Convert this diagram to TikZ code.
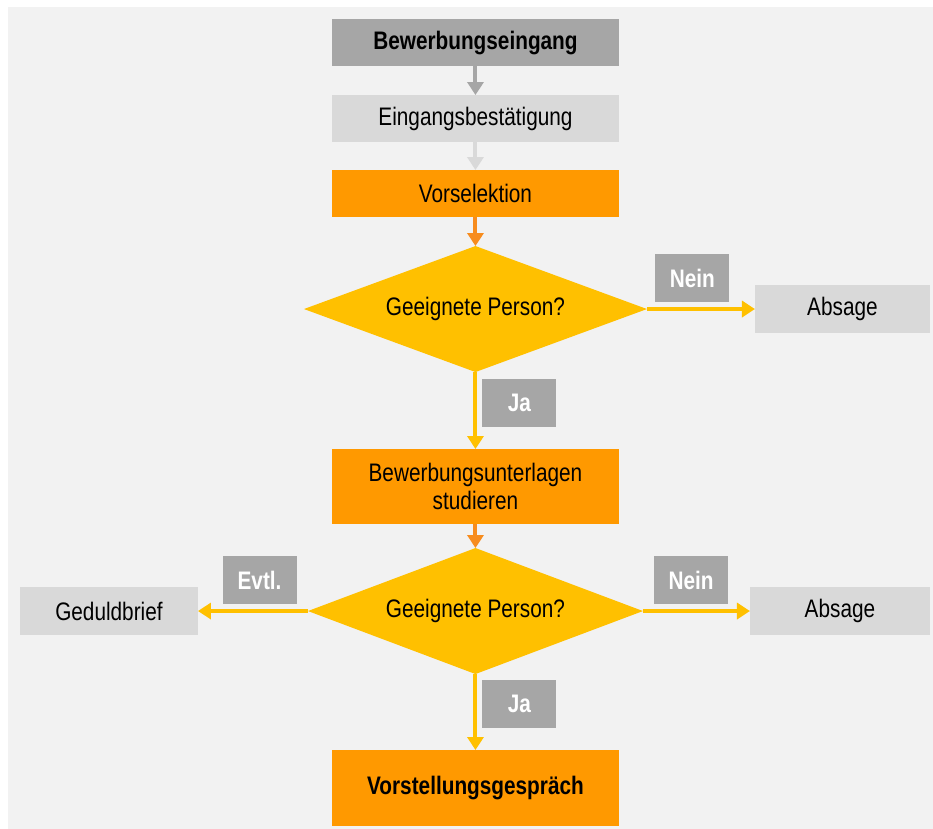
\documentclass[tikz,border=0pt]{standalone}
\usepackage{fontspec}
\setmainfont{Liberation Sans}[FakeStretch=0.82]
\usepackage{xcolor}
\usepackage{tikz}
\usetikzlibrary{positioning,arrows.meta,shapes.geometric}
\definecolor{hgrau}{HTML}{F2F2F2}
\definecolor{mgrau}{HTML}{D9D9D9}
\definecolor{dgrau}{HTML}{A6A6A6}
\definecolor{orange1}{HTML}{FF9900}
\definecolor{orange2}{HTML}{F78C1E}
\definecolor{gelb}{HTML}{FFC000}
\tikzstyle{schritt} = [rectangle, fill=orange1, minimum width=215.25pt, minimum height=35.25pt,
	inner sep=0pt, outer sep=0pt, align=center, font=\fontsize{19}{21}\selectfont]
\tikzstyle{frage} = [diamond, fill=gelb, aspect=2.7, minimum width=257.25pt, minimum height=94.5pt,
	inner sep=0pt, outer sep=0pt, font=\fontsize{19}{21}\selectfont]
\tikzstyle{ende} = [rectangle, fill=mgrau, minimum width=131.25pt, minimum height=36pt,
	inner sep=0pt, outer sep=0pt, font=\fontsize{19}{21}\selectfont]
\tikzstyle{antwort} = [rectangle, fill=dgrau, text=white, minimum width=55.5pt, minimum height=36pt,
	inner sep=0pt, outer sep=0pt, font=\fontsize{19}{21}\selectfont\bfseries]
\tikzstyle{pfeil} = [line width=3pt, -{Triangle[width=12pt,length=9.75pt]}]

\begin{document}
\begin{tikzpicture}
		\useasboundingbox (0,0) rectangle (699.75pt,-621.75pt);
		\fill[hgrau] (6pt,-5.25pt) rectangle (699.75pt,-621.75pt);	% Hintergrund
		
		\node[schritt, fill=dgrau, font=\fontsize{19}{21}\selectfont\bfseries] (eingang) at (356.6pt,-31.9pt) {Bewerbungseingang};
		\node[schritt, fill=mgrau, below=21.75pt of eingang] (bestaetigung) {Eingangsbestätigung};
		\node[schritt, below=21pt of bestaetigung] (vorselektion) {Vorselektion};
		\node[frage, below=21.75pt of vorselektion] (frage1) {Geeignete Person?};		% 1. Entscheidung
		\node[ende, right=81pt of frage1] (absage1) {Absage};
		\node[schritt, minimum height=56.25pt, below=57.75pt of frage1] (unterlagen) {Bewerbungsunterlagen\\studieren};
		\node[frage, minimum width=251.25pt, below=18pt of unterlagen] (frage2) {Geeignete Person?};	% 2. Entscheidung
		\node[ende, minimum width=135pt, right=80.25pt of frage2] (absage2) {Absage};
		\node[ende, minimum width=133.5pt, left=82.5pt of frage2] (geduld) {Geduldbrief};
		\node[schritt, minimum height=57pt, font=\fontsize{19}{21}\selectfont\bfseries, below=57pt of frage2] (gespraech) {Vorstellungsgespräch};
		
		% Pfeile
		\draw[pfeil, dgrau] (eingang) -- (bestaetigung);
		\draw[pfeil, mgrau] (bestaetigung) -- (vorselektion);
		\draw[pfeil, orange2] (vorselektion) -- (frage1);
		\draw[pfeil, gelb] (frage1) -- node[antwort, pos=0.42, above=5.25pt] (nein1) {Nein} (absage1);
		\draw[pfeil, gelb] (frage1) -- node[antwort, pos=0.4, right=5.25pt] (ja1) {Ja} (unterlagen);
		\draw[pfeil, orange2] (unterlagen) -- (frage2);
		\draw[pfeil, gelb] (frage2) -- node[antwort, pos=0.45, above=5.25pt] (nein2) {Nein} (absage2);
		\draw[pfeil, gelb] (frage2) -- node[antwort, pos=0.44, above=5.25pt] (evtl) {Evtl.} (geduld);
		\draw[pfeil, gelb] (frage2) -- node[antwort, pos=0.39, right=5.25pt] (ja2) {Ja} (gespraech);
		
		\end{tikzpicture}
\end{document}
